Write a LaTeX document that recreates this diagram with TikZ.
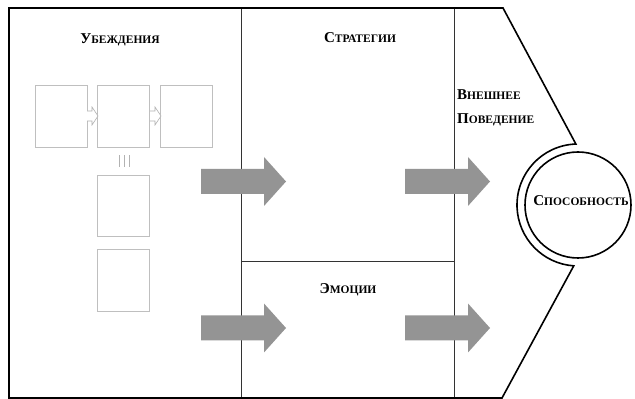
\documentclass[tikz,border=0pt]{standalone}
\usepackage{fontspec}
\setmainfont{Liberation Serif}
\usetikzlibrary{calc}
\newcommand{\fsc}[2]{{\fontsize{15}{15}\selectfont #1}{\fontsize{11.5}{11.5}\selectfont #2}}
\begin{document}
\begin{tikzpicture}[x=1pt,y=1pt,
  outline/.style={draw=black,line width=1.6pt,line join=miter},
  divider/.style={draw=black!80,line width=0.8pt},
  smallbox/.style={draw=black!25,line width=0.8pt,fill=white},
  bigarrow/.style={fill=black!42,draw=none},
  hollowarrow/.style={draw=black!30,line width=0.6pt,fill=white},
  label/.style={font=\bfseries,inner sep=0pt,anchor=base}]
\useasboundingbox (0,0) rectangle (635,399);
\fill[white] (0,0) rectangle (635,399);
\coordinate (c) at (578,194);
% dividers
\draw[divider] (241,391) -- (241,1);
\draw[divider] (454,391) -- (454,1);
\draw[divider] (241,138) -- (454,138);
% outer outline
\draw[outline] (9,391) -- (503,391) -- ($(c)+(92:61)$) arc[start angle=92,end angle=266,radius=61] -- (502,1) -- (9,1) -- cycle;
% inner circle
\draw[line width=1.6pt] (c) circle[radius=53];
\node[label] (cap) at (581,193) {\fsc{С}{ПОСОБНОСТЬ}};
% labels
\node[label] (bel) at (120,355) {\fsc{У}{БЕЖДЕНИЯ}};
\node[label] (str) at (360,356) {\fsc{С}{ТРАТЕГИИ}};
\node[label,anchor=base west] (beh1) at (457,299) {\fsc{В}{НЕШНЕЕ}};
\node[label,anchor=base west] (beh2) at (457,275) {\fsc{П}{ОВЕДЕНИЕ}};
\node[label] (emo) at (348,105) {\fsc{Э}{МОЦИИ}};
% small boxes
\draw[smallbox] (35,252) rectangle (87,314);
\draw[smallbox] (97,252) rectangle (149,314);
\draw[smallbox] (160,252) rectangle (212,314);
\draw[smallbox] (97,163) rectangle (149,224);
\draw[smallbox] (97,88) rectangle (149,150);
% small hollow arrows
\foreach \x in {87,150} {
  \draw[hollowarrow] (\x,278) -- (\x+5,278) -- (\x+5,274) -- (\x+11,283) -- (\x+5,292) -- (\x+5,288) -- (\x,288);
}
% triple bar
\foreach \x in {119,124,129} \draw[black!30,line width=0.8pt] (\x,232) -- (\x,244);
% big arrows
\foreach \x/\y in {201/217.5,405/217.5,201/71,405/71} {
  \fill[bigarrow] (\x,\y-12.5) -- (\x+63,\y-12.5) -- (\x+63,\y-24.5) -- (\x+85,\y) -- (\x+63,\y+24.5) -- (\x+63,\y+12.5) -- (\x,\y+12.5) -- cycle;
}
\end{tikzpicture}
\end{document}
